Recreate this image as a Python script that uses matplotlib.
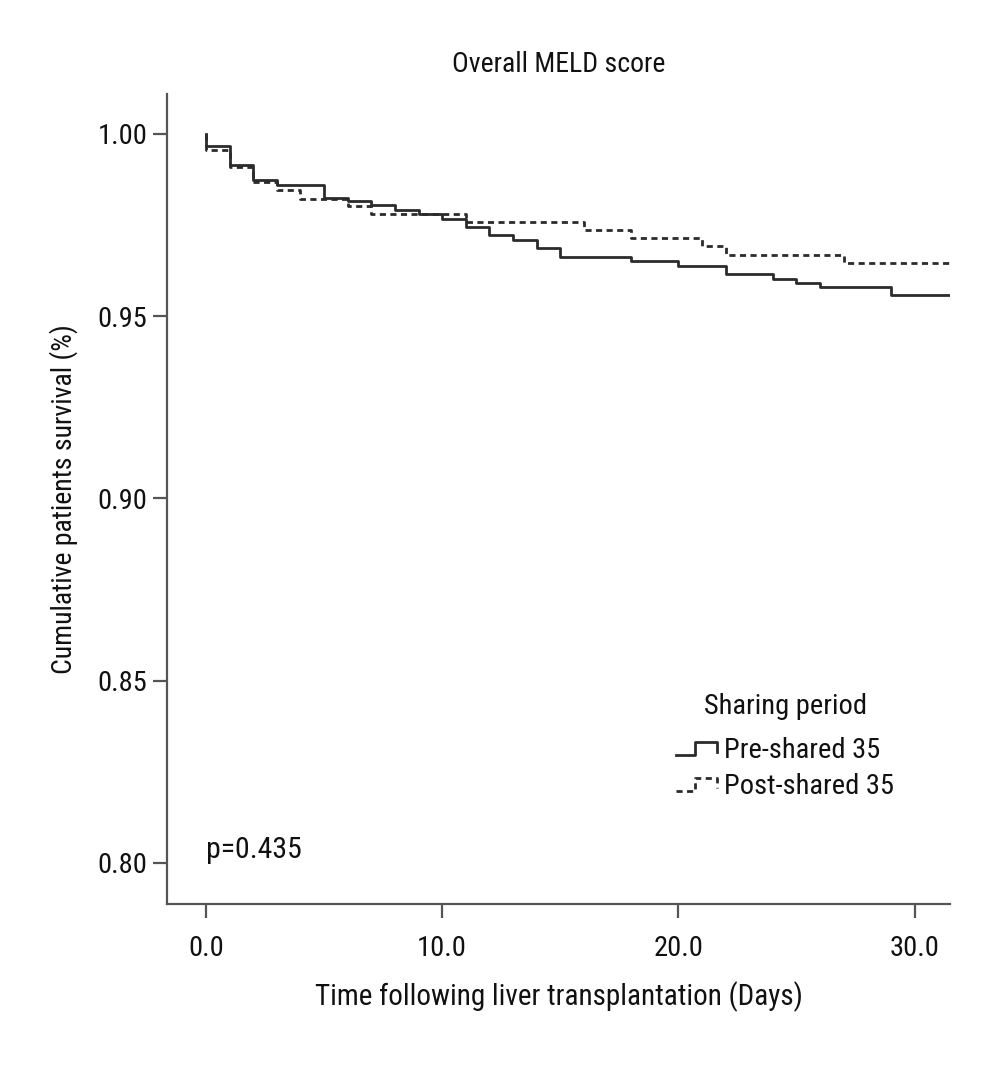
import numpy as np
import matplotlib
matplotlib.use("Agg")
import matplotlib.pyplot as plt
from matplotlib import font_manager as fm
from matplotlib.legend_handler import HandlerBase
from matplotlib.lines import Line2D

# Kaplan-Meier steps (days, survival)
pre_days = [0, 1, 2, 3, 5, 6, 7, 8, 9, 10, 11, 12, 13, 14, 15, 18, 20, 22, 24, 25, 26, 29]
pre_surv = [0.9967, 0.9915, 0.9874, 0.9861, 0.9825, 0.9815, 0.9804, 0.9792, 0.9780, 0.9767, 0.9744,
            0.9722, 0.9709, 0.9686, 0.9662, 0.9650, 0.9638, 0.9615, 0.9603, 0.9592, 0.9581, 0.9557]
post_days = [0, 1, 2, 3, 4, 6, 7, 11, 16, 18, 21, 22, 27]
post_surv = [0.9956, 0.9908, 0.9868, 0.9847, 0.9822, 0.9803, 0.9780, 0.9757, 0.9736, 0.9713,
             0.9692, 0.9669, 0.9647]
end_day = 31.6

x_ticks = [0, 10, 20, 30]
y_ticks = [0.80, 0.85, 0.90, 0.95, 1.00]

names = {f.name for f in fm.fontManager.ttflist}
family = "DejaVu Sans"
for cand in ["Roboto Condensed", "Liberation Sans Narrow", "Open Sans Condensed", "DejaVu Sans Condensed"]:
    if cand in names:
        family = cand
        break
plt.rcParams["font.family"] = [family, "DejaVu Sans"]
if family == "DejaVu Sans":
    plt.rcParams["font.stretch"] = "condensed"

ink = "#2b2b2b"
axis_col = "#555555"
txt = "#111111"


def km_steps(days, surv, end):
    xs = [0.0]
    ys = [1.0]
    for d, s in zip(days, surv):
        xs += [d, d]
        ys += [ys[-1], s]
    xs.append(end)
    ys.append(ys[-1])
    return xs, ys


class StepHandler(HandlerBase):
    # little step-shaped legend key like the SPSS output
    def create_artists(self, legend, orig_handle, xdescent, ydescent, width, height, fontsize, trans):
        xs = np.array([0, 0.45, 0.45, 1.0, 1.0]) * width - xdescent
        ys = np.array([0.15, 0.15, 0.8, 0.8, 0.3]) * height - ydescent
        ln = Line2D(xs, ys, color=orig_handle.get_color(), lw=orig_handle.get_linewidth())
        if orig_handle.get_linestyle() != "-":
            ln.set_dashes(orig_handle._unscaled_dash_pattern[1])
        ln.set_transform(trans)
        return [ln]


fig = plt.figure(figsize=(10, 10.66), dpi=100)
ax = fig.add_axes([0.167, 0.152, 0.783, 0.760])

x1, y1 = km_steps(pre_days, pre_surv, end_day)
x2, y2 = km_steps(post_days, post_surv, end_day)
l2, = ax.plot(x2, y2, color=ink, lw=2.0, dashes=(2.2, 1.6), label="Post-shared 35")
l1, = ax.plot(x1, y1, color=ink, lw=2.0, label="Pre-shared 35")

ax.set_xlim(-1.65, 31.5)
ax.set_ylim(0.7887, 1.011)
ax.set_xticks(x_ticks)
ax.set_xticklabels([f"{t:.1f}" for t in x_ticks])
ax.set_yticks(y_ticks)
ax.set_yticklabels([f"{t:.2f}" for t in y_ticks])

for s in ["top", "right"]:
    ax.spines[s].set_visible(False)
for s in ["left", "bottom"]:
    ax.spines[s].set_color(axis_col)
    ax.spines[s].set_linewidth(1.6)
ax.tick_params(direction="out", length=10, width=1.6, color=axis_col,
               labelsize=20.5, labelcolor=txt, pad=4)
ax.tick_params(axis="x", pad=12)

ax.set_xlabel("Time following liver transplantation (Days)", fontsize=21, color=txt, labelpad=14)
ax.set_ylabel("Cumulative patients survival (%)", fontsize=20, color=txt, labelpad=14)
ax.set_title("Overall MELD score", fontsize=20, color=txt, pad=16)
ax.text(0.0, 0.8035, "p=0.435", ha="left", va="center", fontsize=21.5, color=txt)

leg = ax.legend([l1, l2], ["Pre-shared 35", "Post-shared 35"], title="Sharing period",
                handler_map={Line2D: StepHandler()}, frameon=False, fontsize=20.5, title_fontsize=20.5,
                loc="upper left", bbox_to_anchor=(0.649, 0.375), bbox_transform=fig.transFigure,
                borderpad=0.45, handlelength=1.45, handletextpad=0.25, labelspacing=0.3)
# more room between the title and the entries than between the entries
leg._legend_box.sep = 12
leg.get_title().set_color(txt)
for t in leg.get_texts():
    t.set_color(txt)

fig.savefig("out.png", dpi=100, facecolor="white")
